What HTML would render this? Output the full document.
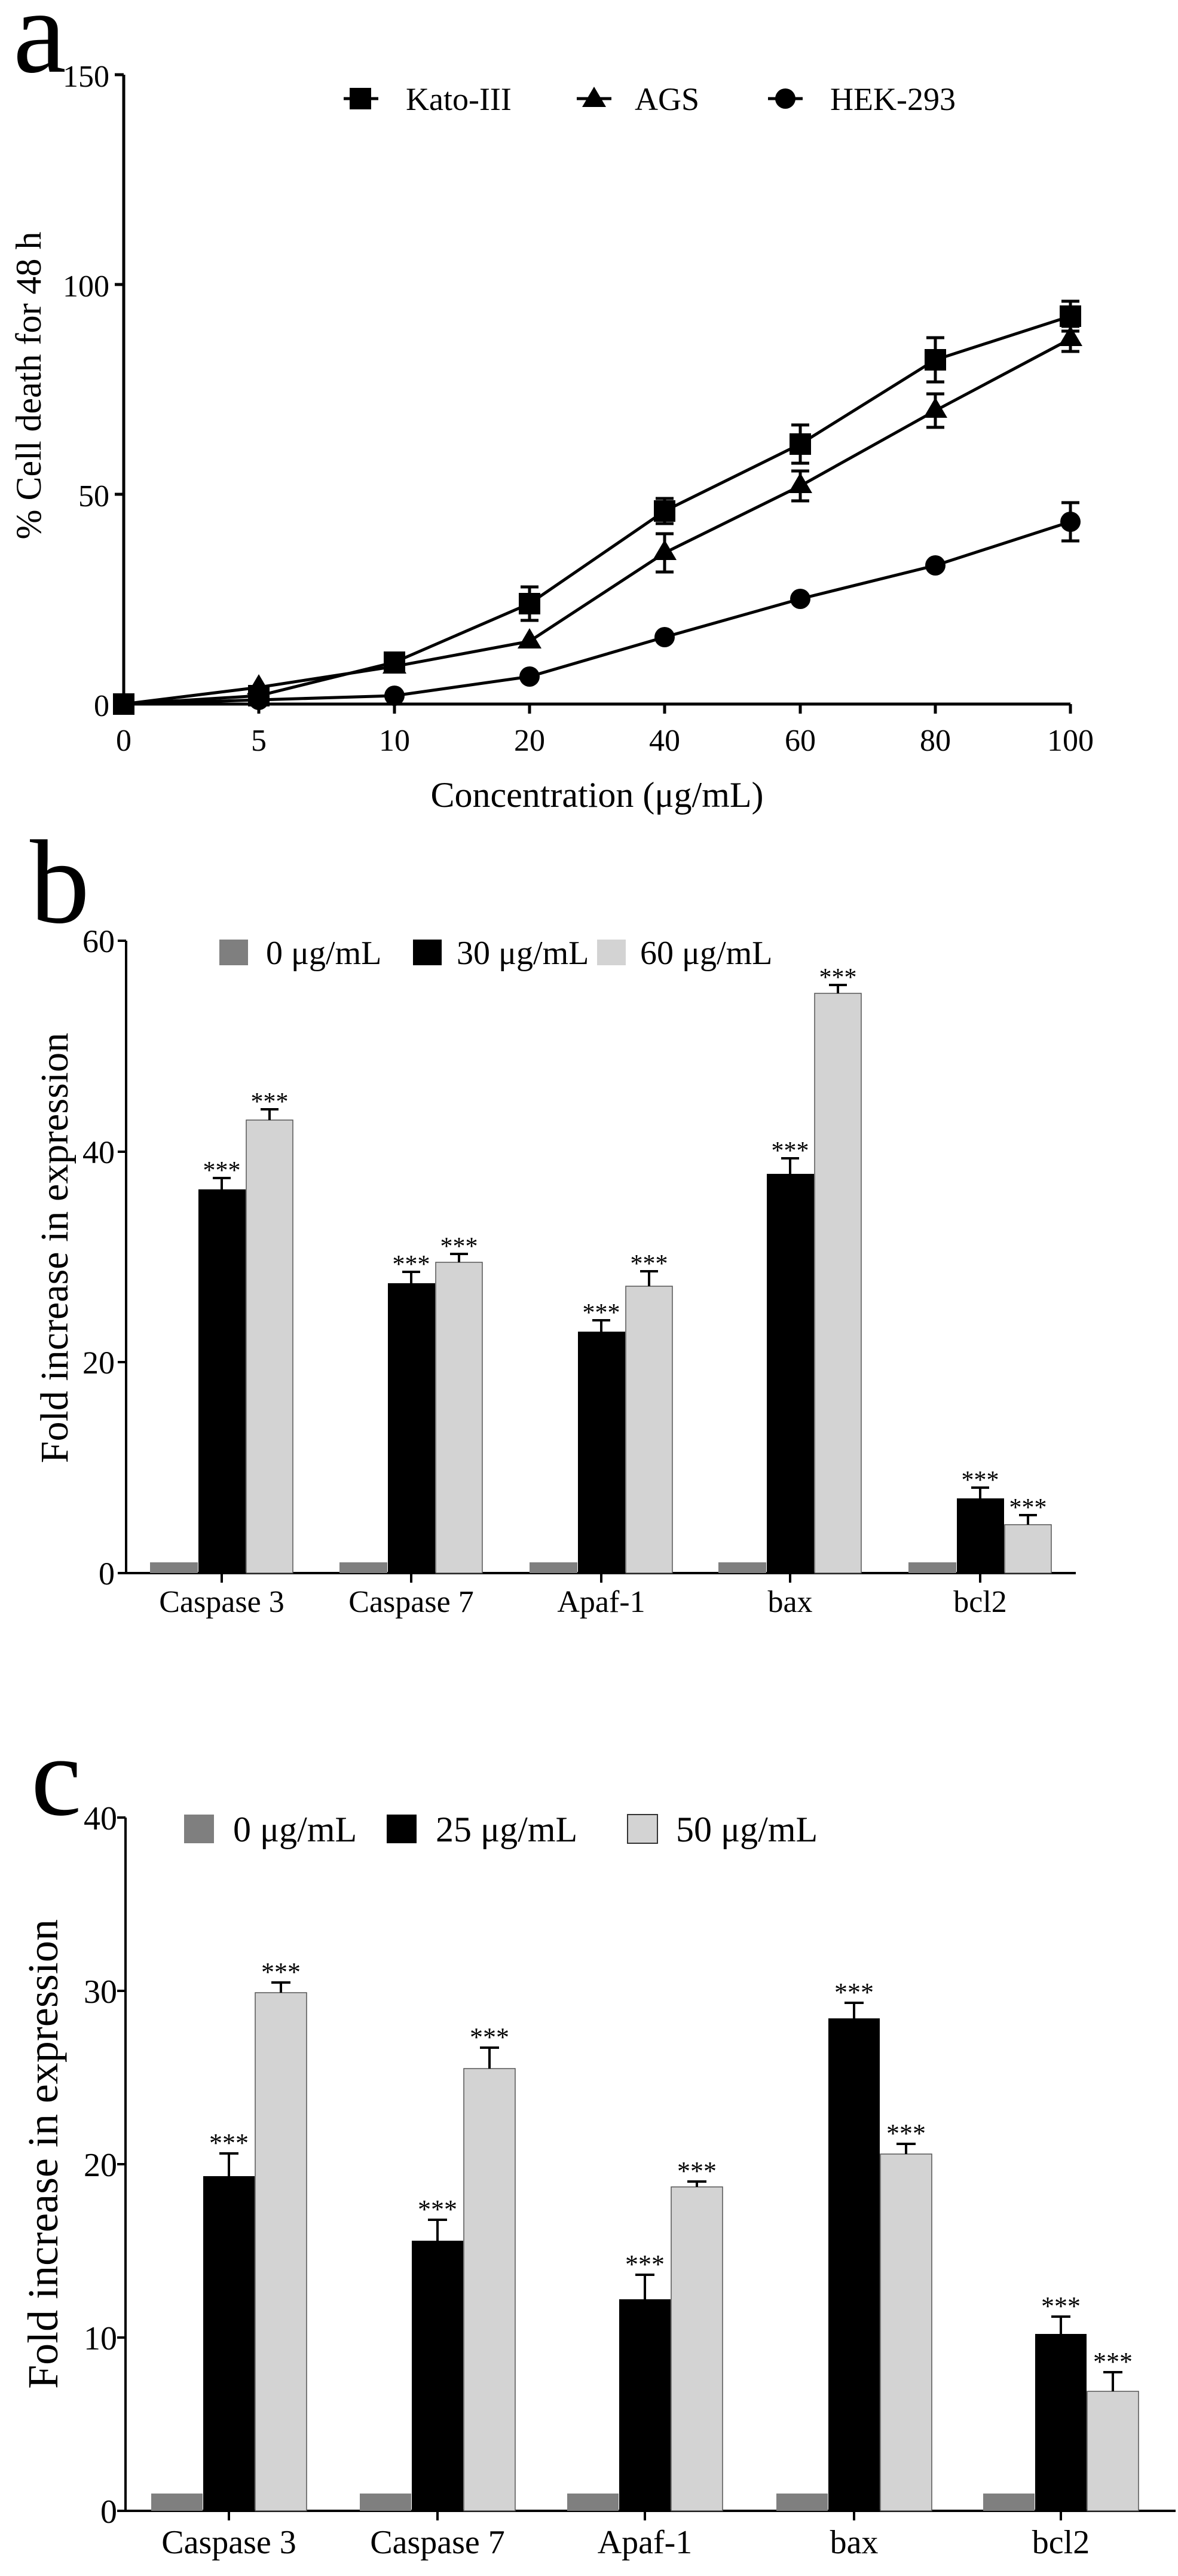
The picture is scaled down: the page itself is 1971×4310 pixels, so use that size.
<!DOCTYPE html>
<html><head><meta charset="utf-8"><style>
html,body{margin:0;padding:0;background:#fff;}
svg{display:block;}
text{font-family:"Liberation Serif",serif;fill:#000;}
</style></head><body>
<svg width="1971" height="4310" viewBox="0 0 1971 4310" xmlns="http://www.w3.org/2000/svg">
<rect width="1971" height="4310" fill="#fff"/>

<!-- ===== Panel a ===== -->
<text x="22" y="120" font-size="200">a</text>
<g stroke="#000" stroke-width="5" fill="none">
  <path d="M207 125 V1178 H1791"/>
  <path d="M192 125 H207 M192 476 H207 M192 827 H207 M192 1178 H207"/>
  <path d="M207 1178 V1194 M433 1178 V1194 M660 1178 V1194 M886 1178 V1194 M1112 1178 V1194 M1339 1178 V1194 M1565 1178 V1194 M1791 1178 V1194"/>
</g>
<g font-size="52" text-anchor="end">
  <text x="183" y="145">150</text><text x="183" y="496">100</text><text x="183" y="847">50</text><text x="183" y="1198">0</text>
</g>
<g font-size="52" text-anchor="middle">
  <text x="207" y="1256">0</text><text x="433" y="1256">5</text><text x="660" y="1256">10</text><text x="886" y="1256">20</text>
  <text x="1112" y="1256">40</text><text x="1339" y="1256">60</text><text x="1565" y="1256">80</text><text x="1791" y="1256">100</text>
</g>
<text x="999" y="1350" font-size="60" text-anchor="middle">Concentration (μg/mL)</text>
<text transform="translate(68,645) rotate(-90)" font-size="60" text-anchor="middle">% Cell death for 48 h</text>

<g stroke="#000" stroke-width="5" fill="none">
  <polyline points="207,1178 433,1164 660,1108 886,1010 1112,855 1339,743 1565,602 1791,529"/>
  <polyline points="207,1178 433,1150 660,1115 886,1073 1112,925 1339,813 1565,687 1791,567"/>
  <polyline points="207,1178 433,1171 660,1164 886,1132 1112,1066 1339,1002 1565,946 1791,873"/>
  <!-- error bars -->
  <path d="M886 982 V1038 M871 982 H901 M871 1038 H901"/>
  <path d="M1112 834 V876 M1097 834 H1127 M1097 876 H1127"/>
  <path d="M1339 711 V775 M1324 711 H1354 M1324 775 H1354"/>
  <path d="M1565 565 V639 M1550 565 H1580 M1550 639 H1580"/>
  <path d="M1791 504 V554 M1776 504 H1806 M1776 554 H1806"/>
  <path d="M1112 893 V957 M1097 893 H1127 M1097 957 H1127"/>
  <path d="M1339 788 V838 M1324 788 H1354 M1324 838 H1354"/>
  <path d="M1565 659 V715 M1550 659 H1580 M1550 715 H1580"/>
  <path d="M1791 546 V588 M1776 546 H1806 M1776 588 H1806"/>
  <path d="M1791 841 V905 M1776 841 H1806 M1776 905 H1806"/>
</g>
<g fill="#000">
  <!-- squares -->
  <rect x="189" y="1160" width="36" height="36"/><rect x="415" y="1146" width="36" height="36"/>
  <rect x="642" y="1090" width="36" height="36"/><rect x="868" y="992" width="36" height="36"/>
  <rect x="1094" y="837" width="36" height="36"/><rect x="1321" y="725" width="36" height="36"/>
  <rect x="1547" y="584" width="36" height="36"/><rect x="1773" y="511" width="36" height="36"/>
  <!-- triangles -->
  <polygon points="433,1128 453,1162 413,1162"/><polygon points="660,1093 680,1127 640,1127"/>
  <polygon points="886,1051 906,1085 866,1085"/><polygon points="1112,903 1132,937 1092,937"/>
  <polygon points="1339,791 1359,825 1319,825"/><polygon points="1565,665 1585,699 1545,699"/>
  <polygon points="1791,545 1811,579 1771,579"/>
  <!-- circles -->
  <circle cx="433" cy="1171" r="17"/><circle cx="660" cy="1164" r="17"/><circle cx="886" cy="1132" r="17"/>
  <circle cx="1112" cy="1066" r="17"/><circle cx="1339" cy="1002" r="17"/><circle cx="1565" cy="946" r="17"/>
  <circle cx="1791" cy="873" r="17"/>
</g>
<!-- legend a -->
<g stroke="#000" stroke-width="5"><path d="M575 165 H633 M965 165 H1023 M1285 165 H1343"/></g>
<rect x="585" y="147" width="36" height="36" fill="#000"/>
<polygon points="994,145 1014,179 974,179" fill="#000"/>
<circle cx="1314" cy="165" r="17" fill="#000"/>
<g font-family="Liberation Sans, sans-serif" font-size="54" style="font-family:'Liberation Sans',sans-serif">
  <text x="679" y="184">Kato-III</text><text x="1062" y="184">AGS</text><text x="1389" y="184">HEK-293</text>
</g>

<!-- ===== Panel b ===== -->
<text x="50" y="1543" font-size="200">b</text>
<g stroke="#000" stroke-width="4" fill="none">
  <path d="M211 1574 V2632 H1800"/>
  <path d="M197 1574 H211 M197 1927 H211 M197 2279 H211 M197 2632 H211"/>
  <path d="M371 2632 V2648 M688 2632 V2648 M1006 2632 V2648 M1322 2632 V2648 M1640 2632 V2648"/>
</g>
<g font-size="54" text-anchor="end">
  <text x="192" y="1593">60</text><text x="192" y="1946">40</text><text x="192" y="2298">20</text><text x="192" y="2651">0</text>
</g>
<g font-size="52" text-anchor="middle">
  <text x="371" y="2697">Caspase 3</text><text x="688" y="2697">Caspase 7</text><text x="1006" y="2697">Apaf-1</text>
  <text x="1322" y="2697">bax</text><text x="1640" y="2697">bcl2</text>
</g>
<text transform="translate(113,2088) rotate(-90)" font-size="66" text-anchor="middle">Fold increase in expression</text>
<g>
  <rect x="251" y="2614" width="80" height="18" fill="#7f7f7f"/>
  <rect x="568" y="2614" width="80" height="18" fill="#7f7f7f"/>
  <rect x="886" y="2614" width="80" height="18" fill="#7f7f7f"/>
  <rect x="1202" y="2614" width="80" height="18" fill="#7f7f7f"/>
  <rect x="1520" y="2614" width="80" height="18" fill="#7f7f7f"/>
  <rect x="332" y="1990" width="79" height="642" fill="#000"/>
  <rect x="649" y="2147" width="79" height="485" fill="#000"/>
  <rect x="967" y="2228" width="79" height="404" fill="#000"/>
  <rect x="1283" y="1964" width="79" height="668" fill="#000"/>
  <rect x="1601" y="2507" width="79" height="125" fill="#000"/>
  <g fill="#d3d3d3" stroke="#555" stroke-width="1.5">
    <rect x="412" y="1874" width="78" height="758"/>
    <rect x="729" y="2112" width="78" height="520"/>
    <rect x="1047" y="2152" width="78" height="480"/>
    <rect x="1363" y="1662" width="78" height="970"/>
    <rect x="1681" y="2551" width="78" height="81"/>
  </g>
</g>
<g stroke="#000" stroke-width="4">
  <path d="M371 1990 V1971 M356 1971 H386"/><path d="M688 2147 V2128 M673 2128 H703"/>
  <path d="M1006 2228 V2209 M991 2209 H1021"/><path d="M1322 1964 V1938 M1307 1938 H1337"/>
  <path d="M1640 2507 V2489 M1625 2489 H1655"/>
  <path d="M451 1874 V1856 M436 1856 H466"/><path d="M768 2112 V2098 M753 2098 H783"/>
  <path d="M1086 2152 V2127 M1071 2127 H1101"/><path d="M1402 1662 V1648 M1387 1648 H1417"/>
  <path d="M1720 2551 V2535 M1705 2535 H1735"/>
</g>
<g font-size="42" text-anchor="middle">
  <text x="371" y="1972">***</text><text x="688" y="2129">***</text><text x="1006" y="2210">***</text>
  <text x="1322" y="1939">***</text><text x="1640" y="2490">***</text>
  <text x="451" y="1857">***</text><text x="768" y="2099">***</text><text x="1086" y="2128">***</text>
  <text x="1402" y="1649">***</text><text x="1720" y="2536">***</text>
</g>
<!-- legend b -->
<rect x="367" y="1572" width="48" height="43" fill="#7f7f7f"/>
<rect x="691" y="1572" width="48" height="43" fill="#000"/>
<rect x="999" y="1572" width="48" height="43" fill="#d3d3d3"/>
<g font-size="56">
  <text x="445" y="1613">0 μg/mL</text><text x="764" y="1613">30 μg/mL</text><text x="1071" y="1613">60 μg/mL</text>
</g>

<!-- ===== Panel c ===== -->
<text x="52" y="3036" font-size="190">c</text>
<g stroke="#000" stroke-width="4" fill="none">
  <path d="M210 3041 V4201 H1967"/>
  <path d="M196 3041 H210 M196 3331 H210 M196 3621 H210 M196 3911 H210 M196 4201 H210"/>
  <path d="M383 4201 V4217 M732 4201 V4217 M1079 4201 V4217 M1429 4201 V4217 M1775 4201 V4217"/>
</g>
<g font-size="56" text-anchor="end">
  <text x="196" y="3061">40</text><text x="196" y="3351">30</text><text x="196" y="3641">20</text><text x="196" y="3931">10</text><text x="196" y="4221">0</text>
</g>
<g font-size="56" text-anchor="middle">
  <text x="383" y="4272">Caspase 3</text><text x="732" y="4272">Caspase 7</text><text x="1079" y="4272">Apaf-1</text>
  <text x="1429" y="4272">bax</text><text x="1775" y="4272">bcl2</text>
</g>
<text transform="translate(96,3604) rotate(-90)" font-size="72" text-anchor="middle">Fold increase in expression</text>
<g>
  <rect x="253" y="4172" width="86" height="29" fill="#7f7f7f"/>
  <rect x="602" y="4172" width="86" height="29" fill="#7f7f7f"/>
  <rect x="949" y="4172" width="86" height="29" fill="#7f7f7f"/>
  <rect x="1299" y="4172" width="86" height="29" fill="#7f7f7f"/>
  <rect x="1645" y="4172" width="86" height="29" fill="#7f7f7f"/>
  <rect x="340" y="3641" width="86" height="560" fill="#000"/>
  <rect x="689" y="3749" width="86" height="452" fill="#000"/>
  <rect x="1036" y="3847" width="86" height="354" fill="#000"/>
  <rect x="1386" y="3377" width="86" height="824" fill="#000"/>
  <rect x="1732" y="3905" width="86" height="296" fill="#000"/>
  <g fill="#d3d3d3" stroke="#555" stroke-width="1.5">
    <rect x="427" y="3334" width="86" height="867"/>
    <rect x="776" y="3461" width="86" height="740"/>
    <rect x="1123" y="3659" width="86" height="542"/>
    <rect x="1473" y="3604" width="86" height="597"/>
    <rect x="1819" y="4001" width="86" height="200"/>
  </g>
</g>
<g stroke="#000" stroke-width="4">
  <path d="M383 3641 V3603 M367 3603 H399"/><path d="M732 3749 V3714 M716 3714 H748"/>
  <path d="M1079 3847 V3806 M1063 3806 H1095"/><path d="M1429 3377 V3351 M1413 3351 H1445"/>
  <path d="M1775 3905 V3876 M1759 3876 H1791"/>
  <path d="M470 3334 V3317 M454 3317 H486"/><path d="M819 3461 V3426 M803 3426 H835"/>
  <path d="M1166 3659 V3650 M1150 3650 H1182"/><path d="M1516 3604 V3587 M1500 3587 H1532"/>
  <path d="M1862 4001 V3969 M1846 3969 H1878"/>
</g>
<g font-size="44" text-anchor="middle">
  <text x="383" y="3600">***</text><text x="732" y="3711">***</text><text x="1079" y="3803">***</text>
  <text x="1429" y="3348">***</text><text x="1775" y="3873">***</text>
  <text x="470" y="3314">***</text><text x="819" y="3423">***</text><text x="1166" y="3647">***</text>
  <text x="1516" y="3584">***</text><text x="1862" y="3966">***</text>
</g>
<!-- legend c -->
<rect x="308" y="3036" width="50" height="48" fill="#7f7f7f"/>
<rect x="647" y="3036" width="50" height="48" fill="#000"/>
<rect x="1050" y="3036" width="50" height="48" fill="#d3d3d3" stroke="#333" stroke-width="2"/>
<g font-size="60">
  <text x="390" y="3081">0 μg/mL</text><text x="729" y="3081">25 μg/mL</text><text x="1131" y="3081">50 μg/mL</text>
</g>
</svg>
</body></html>
